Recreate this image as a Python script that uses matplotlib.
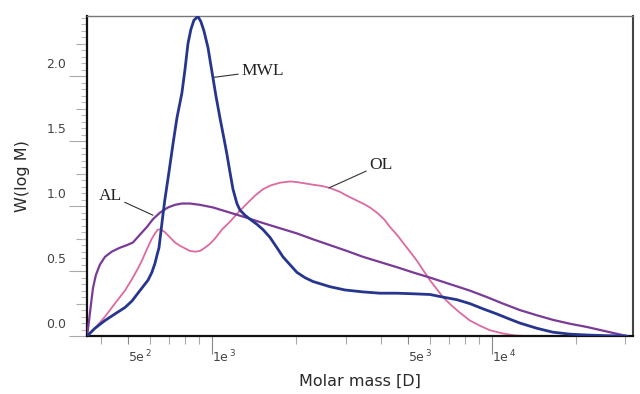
import numpy as np
import matplotlib
matplotlib.use("Agg")
import matplotlib.pyplot as plt
from matplotlib.ticker import FixedLocator, MultipleLocator, NullFormatter
from matplotlib.transforms import ScaledTranslation

# molar mass (D) and W(log M)
mwl_m = [358, 382, 415, 450, 489, 518, 544, 567, 591, 610, 626, 636, 647, 657,
         668, 679, 702, 726, 750, 781, 801, 821, 841, 862, 891, 913, 936, 968,
         992, 1008, 1033, 1068, 1104, 1131, 1160, 1189, 1228, 1259, 1312, 1367,
         1448, 1521, 1611, 1707, 1793, 1899, 2012, 2148, 2295, 2639, 2985, 3462,
         3981, 4578, 5309, 6008, 6683, 7499, 8340, 9288, 10420, 11590, 12590,
         14480, 16510, 18990, 21850, 25740, 30370]
mwl_w = [0.0, 0.06, 0.12, 0.17, 0.22, 0.27, 0.33, 0.38, 0.43, 0.49, 0.56, 0.62,
         0.68, 0.80, 0.93, 1.05, 1.26, 1.48, 1.68, 1.87, 2.05, 2.25, 2.36, 2.43,
         2.46, 2.42, 2.35, 2.22, 2.08, 1.99, 1.85, 1.68, 1.52, 1.40, 1.26, 1.13,
         1.02, 0.97, 0.93, 0.90, 0.86, 0.82, 0.76, 0.68, 0.61, 0.55, 0.49, 0.45,
         0.42, 0.38, 0.355, 0.34, 0.33, 0.33, 0.325, 0.32, 0.30, 0.28, 0.25,
         0.21, 0.17, 0.13, 0.10, 0.06, 0.03, 0.015, 0.008, 0.003, 0.0]

al_m = [358, 364, 370, 376, 385, 398, 415, 439, 469, 497, 522, 553, 586, 616,
        652, 697, 738, 781, 835, 906, 1008, 1160, 1334, 1521, 1749, 2012, 2295,
        2639, 3035, 3462, 3981, 4578, 5224, 6008, 7079, 8340, 9597, 10950,
        12590, 14480, 16510, 18990, 21850, 25740, 30370]
al_w = [0.0, 0.12, 0.25, 0.37, 0.47, 0.55, 0.61, 0.65, 0.68, 0.70, 0.72, 0.78,
        0.84, 0.90, 0.95, 0.99, 1.01, 1.02, 1.02, 1.01, 0.99, 0.95, 0.91, 0.87,
        0.83, 0.79, 0.745, 0.70, 0.655, 0.61, 0.57, 0.53, 0.49, 0.45, 0.40,
        0.35, 0.30, 0.25, 0.20, 0.16, 0.125, 0.095, 0.07, 0.035, 0.0]

ol_m = [358, 382, 415, 450, 489, 522, 544, 562, 586, 610, 626, 641, 657, 679,
        708, 738, 769, 801, 835, 870, 906, 944, 984, 1025, 1086, 1160, 1239,
        1334, 1424, 1521, 1624, 1749, 1899, 2012, 2148, 2295, 2471, 2639, 2865,
        3035, 3241, 3462, 3666, 3884, 4115, 4322, 4578, 4810, 5095, 5397, 5670,
        6008, 6363, 6683, 7139, 7686, 8340, 9057, 9837, 10950, 12080, 13340,
        30370]
ol_w = [0.0, 0.06, 0.15, 0.25, 0.35, 0.45, 0.52, 0.58, 0.67, 0.75, 0.79, 0.82,
        0.82, 0.80, 0.76, 0.72, 0.695, 0.675, 0.655, 0.65, 0.655, 0.68, 0.71,
        0.75, 0.82, 0.88, 0.95, 1.02, 1.08, 1.13, 1.16, 1.18, 1.19, 1.185,
        1.175, 1.165, 1.155, 1.14, 1.11, 1.08, 1.05, 1.02, 0.99, 0.95, 0.90,
        0.84, 0.78, 0.72, 0.65, 0.58, 0.51, 0.43, 0.36, 0.30, 0.24, 0.18, 0.12,
        0.08, 0.045, 0.02, 0.005, 0.0, 0.0]

x_labels = {500: r"$\mathregular{5e^{\,2}}$", 1000: r"$\mathregular{1e^{\,3}}$",
            5000: r"$\mathregular{5e^{\,3}}$", 10000: r"$\mathregular{1e^{\,4}}$"}
x_minor = [400, 600, 700, 800, 900, 2000, 3000, 4000, 6000, 7000, 8000, 9000,
           20000, 30000]

fig = plt.figure(figsize=(6.4, 3.94), dpi=100)
ax = fig.add_axes([0.136, 0.147, 0.853, 0.813])

line_kw = dict(solid_joinstyle="round", solid_capstyle="round")
ax.plot(ol_m, ol_w, color="#dc6a9f", lw=1.3, zorder=2, **line_kw)
ax.plot(al_m, al_w, color="#7a3a98", lw=1.6, zorder=3, **line_kw)
ax.plot(mwl_m, mwl_w, color="#26368f", lw=2.0, zorder=4, **line_kw)

ax.set_xscale("log")
ax.set_xlim(358, 31900)
ax.set_ylim(0, 2.465)

# x ticks
ax.xaxis.set_major_locator(FixedLocator(list(x_labels.keys())))
ax.set_xticklabels(list(x_labels.values()))
ax.xaxis.set_minor_locator(FixedLocator(x_minor))
ax.xaxis.set_minor_formatter(NullFormatter())
ax.tick_params(axis="x", which="major", length=13, width=0.8, color="#888888",
               pad=-4, labelsize=9, labelcolor="#444444")
ax.tick_params(axis="x", which="minor", length=5.5, width=0.8, color="#aaaaaa")
for tick in ax.xaxis.get_major_ticks():
    if tick.get_loc() in (500, 5000):
        tick.tick1line.set_markersize(6)
for lab in ax.get_xticklabels():
    lab.set_ha("left")

# y ticks
ax.yaxis.set_minor_locator(MultipleLocator(0.05))
ax.set_yticks([0, 0.5, 1.0, 1.5, 2.0])
ax.set_yticklabels(["0.0", "0.5", "1.0", "1.5", "2.0"])
ax.tick_params(axis="y", which="major", length=13, width=0.8, color="#aaaaaa",
               pad=2, labelsize=9, labelcolor="#444444")
ax.tick_params(axis="y", which="minor", length=4.3, width=0.8, color="#bbbbbb")
shift = ScaledTranslation(0, 13 / 100, fig.dpi_scale_trans)
for lab in ax.get_yticklabels():
    lab.set_transform(lab.get_transform() + shift)

sec = ax.secondary_yaxis("left")
sec.set_yticks([0.25, 0.75, 1.25, 1.75, 2.25])
sec.set_yticklabels([])
sec.tick_params(length=8, width=0.8, color="#aaaaaa")
sec.spines["left"].set_visible(False)

for side in ("left", "bottom"):
    ax.spines[side].set_color("#111111")
    ax.spines[side].set_linewidth(1.6)
ax.spines["top"].set_color("#777777")
ax.spines["top"].set_linewidth(1.0)
ax.spines["right"].set_color("#444444")
ax.spines["right"].set_linewidth(1.5)

ax.set_xlabel("Molar mass [D]", fontsize=11.5, color="#2a2a2a", labelpad=6)
ax.set_ylabel("W(log M)", fontsize=11.5, color="#2a2a2a", labelpad=12)

# curve labels with leader lines
serif = dict(family="Liberation Serif", fontsize=12.5, color="#222222")
leader = dict(arrowstyle="-", color="#333333", lw=0.8, shrinkA=0, shrinkB=0)
ax.annotate("MWL", xy=(1008, 1.99), xytext=(1270, 2.04), ha="left", va="center",
            arrowprops=leader, **serif)
ax.annotate("AL", xy=(616, 0.93), xytext=(477, 1.08), ha="right", va="center",
            arrowprops=leader, **serif)
ax.annotate("OL", xy=(2617, 1.14), xytext=(3640, 1.32), ha="left", va="center",
            arrowprops=leader, **serif)

fig.savefig("out.png", dpi=100)
